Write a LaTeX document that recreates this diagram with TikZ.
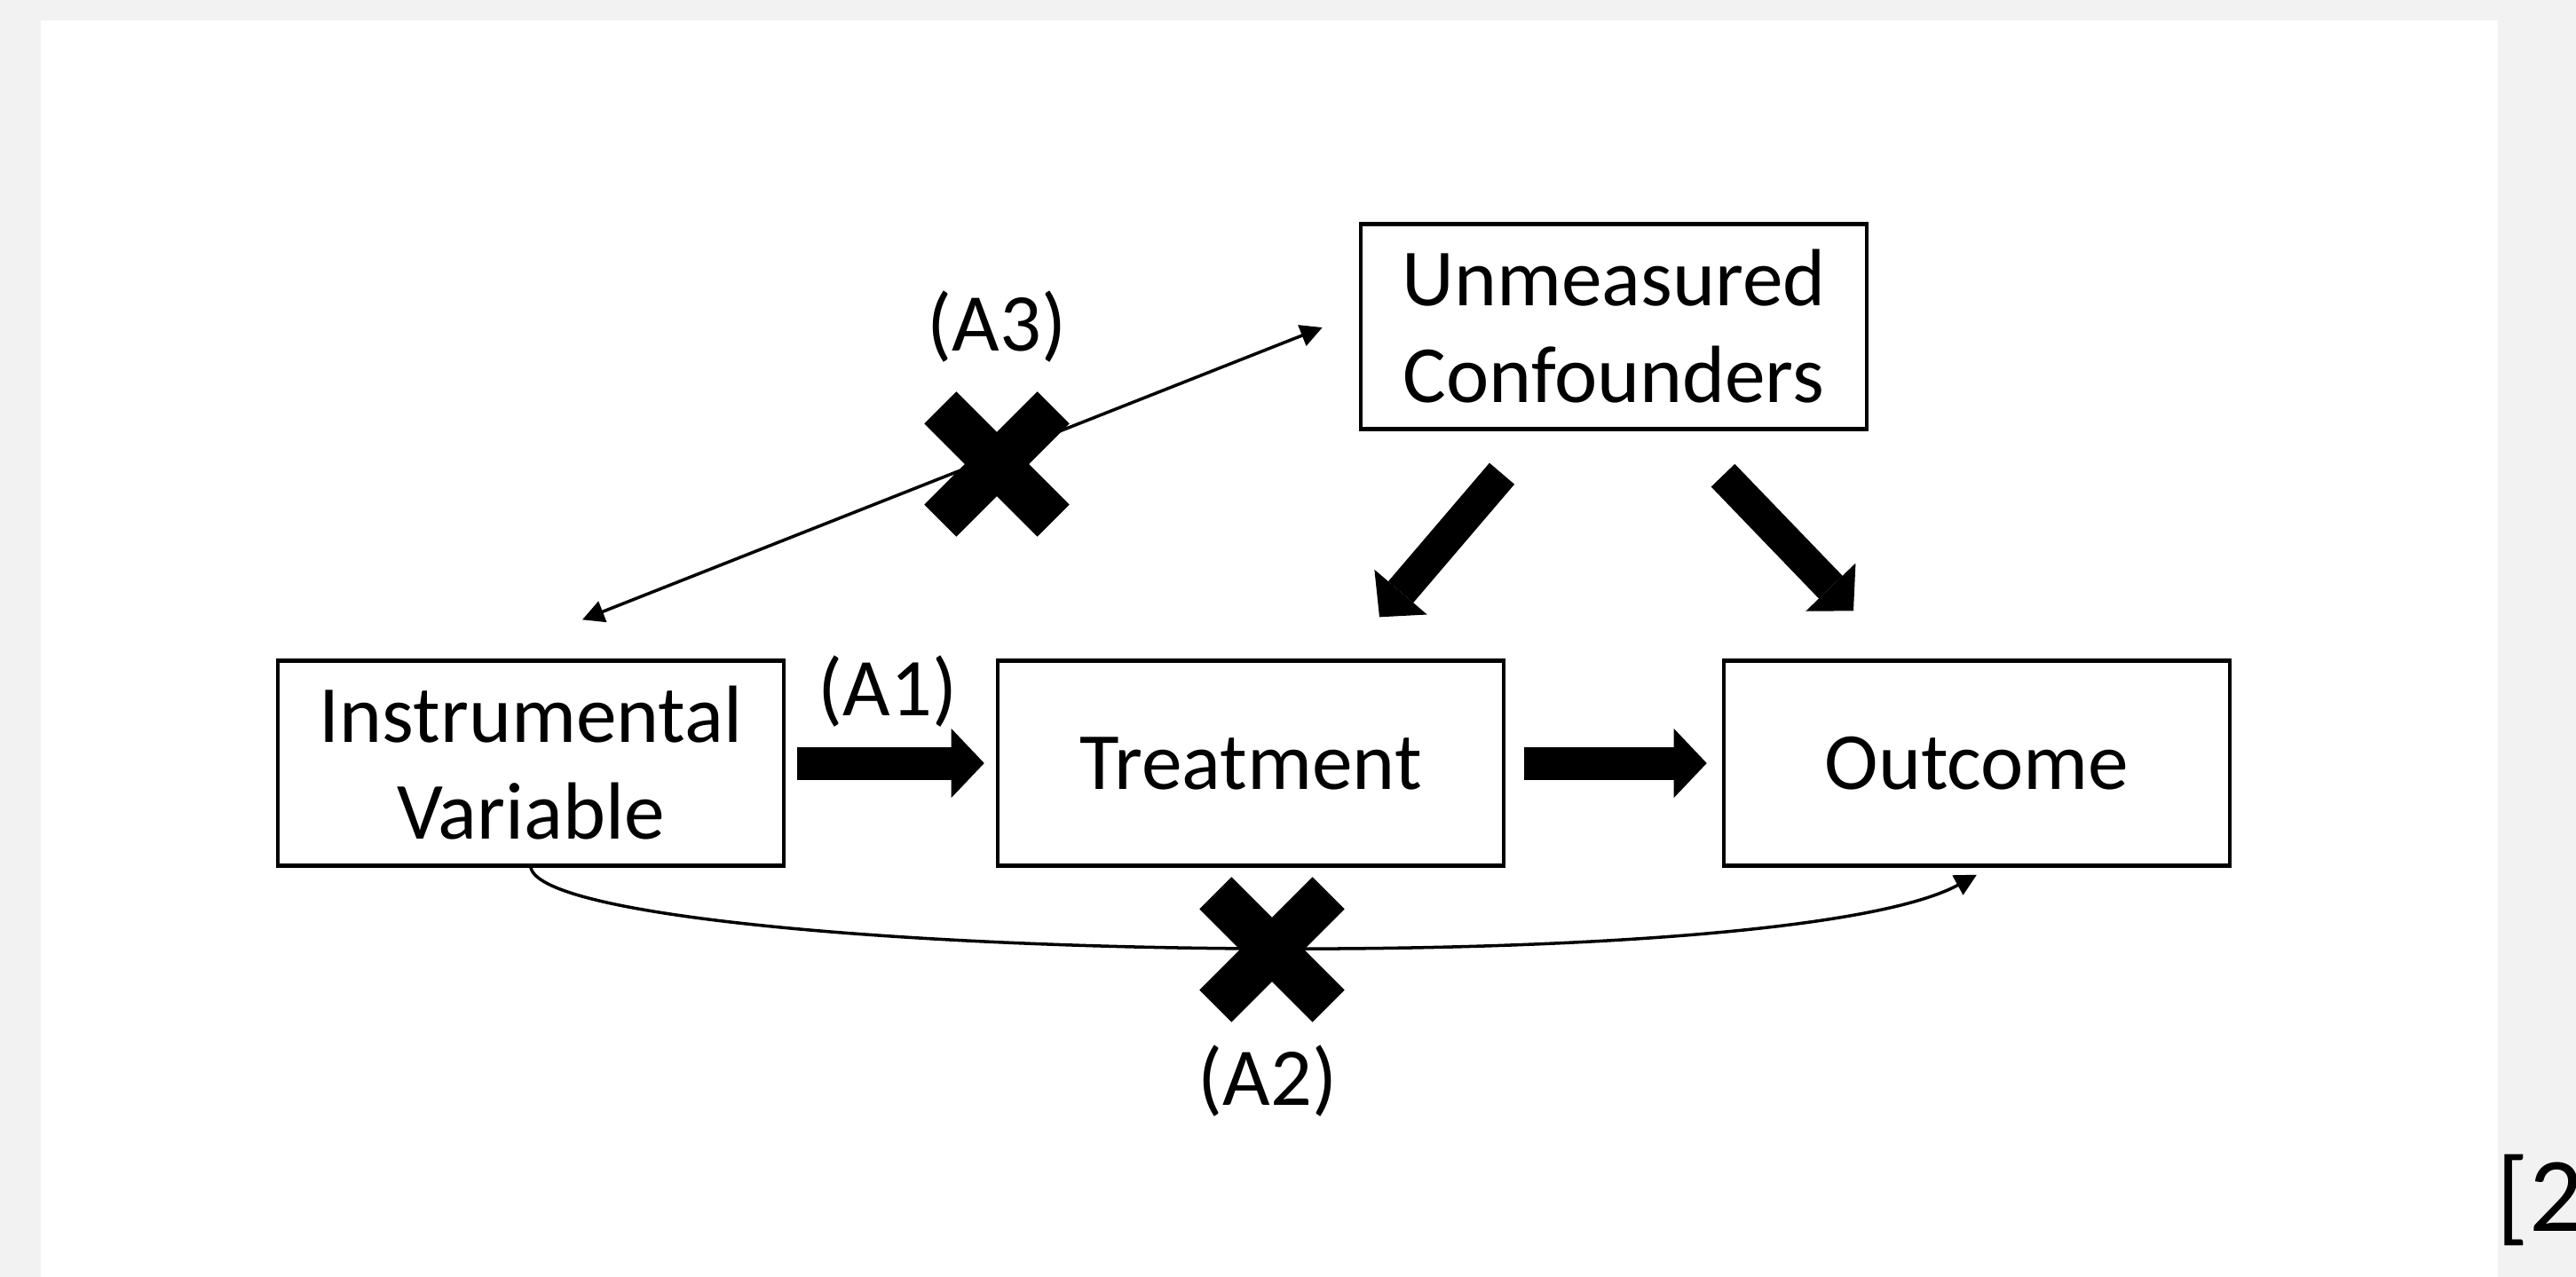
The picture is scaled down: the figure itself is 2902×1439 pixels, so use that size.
\documentclass[tikz,border=0pt]{standalone}
\usepackage{fontspec}
\setmainfont{Carlito}
\usetikzlibrary{arrows.meta,calc}
\definecolor{pagegray}{HTML}{F2F2F2}
\tikzset{
  box/.style={draw=black, line width=1.2pt, fill=white, minimum width=5.7cm,
    minimum height=2.31cm, align=center, inner sep=0pt,
    font=\fontsize{26}{31}\selectfont},
  lbl/.style={inner sep=0pt, font=\fontsize{26.3}{31}\selectfont},
  fat/.style={line width=0.37cm, -{Triangle[length=0.37cm, width=0.78cm, line width=0pt]}},
  thinarrow/.style={line width=1pt, -{Triangle[length=7pt, width=7pt]}},
  thinboth/.style={line width=1pt, {Triangle[length=7pt, width=7pt]}-{Triangle[length=7pt, width=7pt]}},
  pics/xmark/.style={code={
    \fill[black, rotate=45] (-90,-25.5) rectangle (90,25.5);
    \fill[black, rotate=-45] (-90,-25.5) rectangle (90,25.5);
  }},
}
\begin{document}
\begin{tikzpicture}[x=0.01cm, y=-0.01cm]
\useasboundingbox (0,0) rectangle (2902,1439);
\clip (0,0) rectangle (2902,1439);
\fill[pagegray] (0,0) rectangle (2902,1439);
\fill[white] (46,23) rectangle (2814,1439);

% boxes
\node[box] (IV) at (598,860) {Instrumental\\Variable};
\node[box] (T)  at (1409,860) {Treatment};
\node[box] (O)  at (2227,860) {Outcome};
\node[box] (UC) at (1818,368) {Unmeasured\\Confounders};

% thin connectors
\draw[thinboth] ($(IV.north)+(58,-44)$) -- ($(UC.west)+(-41,1)$);
\draw[thinarrow] (IV.south) .. controls (620,1080) and (2000,1110) .. ($(O.south)+(0,8)$);

% crosses
\pic at (1123,523) {xmark};
\pic at (1433,1070) {xmark};

% labels
\node[lbl] (a1) at (1000,779) {(A1)};
\node[lbl] (a2) at (1428,1218) {(A2)};
\node[lbl] (a3) at (1123,368) {(A3)};

% thick arrows
\draw[fat, shorten <=0.13cm, shorten >=0.13cm] (IV.east) -- (T.west);
\draw[fat, shorten <=0.21cm, shorten >=0.17cm] (T.east) -- (O.west);
\draw[fat] ($(UC.south)+(-126,48)$) -- ($(T.north)+(145,-47)$);
\draw[fat] ($(UC.south)+(123,50)$) -- ($(O.north)+(-139,-54)$);

% cut-off citation mark
\node[anchor=base west, inner sep=0pt, font=\fontsize{34}{40}\selectfont] (ref) at (2812,1387) {[2};
\end{tikzpicture}
\end{document}
